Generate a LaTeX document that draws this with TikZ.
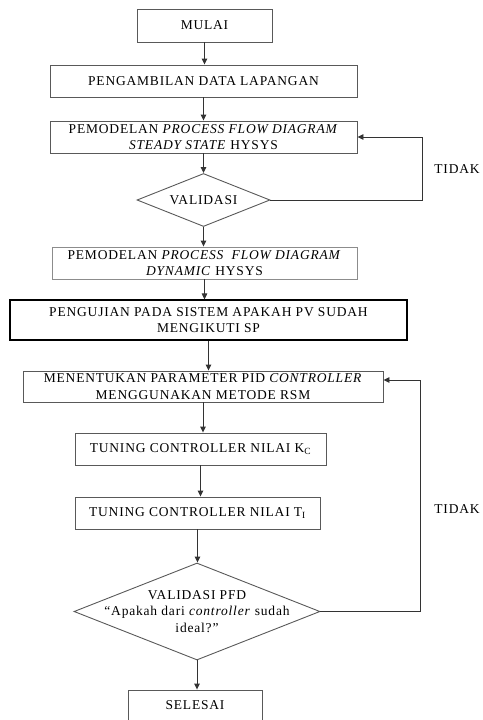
\documentclass[tikz,border=0pt]{standalone}
\usepackage{fontspec}
\setmainfont{Liberation Serif}[LetterSpace=6]
\usetikzlibrary{shapes.geometric,arrows.meta}
\begin{document}
\begin{tikzpicture}[x=1pt,y=1pt,
  box/.style={draw=black!65,line width=0.9pt,minimum width=#1,minimum height=32pt,inner sep=0pt,align=center,font=\fontsize{13.5}{16.5}\selectfont},
  dia/.style={diamond,draw=black!65,line width=0.9pt,aspect=2.5,inner sep=0pt},
  txt/.style={align=center,inner sep=0pt,font=\fontsize{13.5}{16.5}\selectfont},
  arr/.style={draw=black!80,line width=0.9pt,-{Triangle[length=6pt,width=5.5pt]}},
  lbl/.style={font=\fontsize{13.5}{16}\selectfont}]
\useasboundingbox (0,0) rectangle (482,-720);
\node[box=135pt,minimum height=33pt] (mulai) at (204.5,-25.5) {MULAI};
\node[box=307pt] (ambil) at (203.5,-81) {PENGAMBILAN DATA LAPANGAN};
\node[box=307pt] (steady) at (203.5,-137) {PEMODELAN \textit{PROCESS FLOW DIAGRAM}\\\textit{STEADY STATE} HYSYS};
\node[dia,minimum width=133pt,minimum height=53pt] (val1) at (203.5,-200) {};
\node[txt] (val1t) at (val1) {VALIDASI};
\node[box=305pt,draw=black!45] (dyn) at (204.5,-263) {PEMODELAN \textit{PROCESS\ \ FLOW DIAGRAM}\\\textit{DYNAMIC} HYSYS};
\node[box=397pt,draw=black,line width=1.1pt,minimum height=40pt] (uji) at (208.5,-320) {PENGUJIAN PADA SISTEM APAKAH PV SUDAH\\MENGIKUTI SP};
\node[box=360pt,minimum height=31pt] (tentu) at (203,-386.5) {MENENTUKAN PARAMETER PID \textit{CONTROLLER}\\MENGGUNAKAN METODE RSM};
\node[box=251pt] (kc) at (200.5,-449) {TUNING CONTROLLER NILAI K\textsubscript{C}};
\node[box=245pt] (ti) at (197.5,-513) {TUNING CONTROLLER NILAI T\textsubscript{I}};
\node[dia,minimum width=246pt,minimum height=97pt] (val2) at (197,-611.5) {};
\node[txt] (val2t) at (val2) {VALIDASI PFD\\``Apakah dari \textit{controller} sudah\\ideal?''};
\node[box=134pt,minimum height=30pt] (selesai) at (195,-705) {SELESAI};
\node[lbl] (t1) at (457,-169) {TIDAK};
\node[lbl] (t2) at (457,-509) {TIDAK};
\coordinate (c1) at (422,-200);
\coordinate (c2) at (422,-137);
\coordinate (c3) at (420,-611.5);
\coordinate (c4) at (420,-380);
\foreach \a/\b in {mulai/ambil,ambil/steady,steady/val1,val1/dyn,dyn/uji,uji/tentu,tentu/kc,kc/ti,ti/val2,val2/selesai}
  \draw[arr] (\a.south) -- (\a.south |- \b.north);
\draw[arr] (val1.east) -- (c1) -- (c2) -- (steady.east);
\draw[arr] (val2.east) -- (c3) -- (c4) -- (tentu.east |- c4);
\end{tikzpicture}
\end{document}
